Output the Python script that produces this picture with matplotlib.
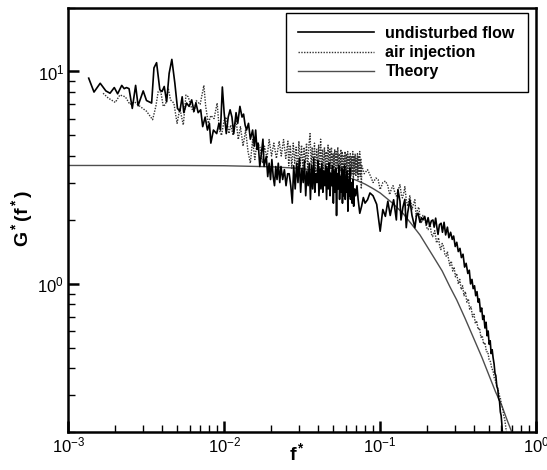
import numpy as np
import matplotlib
matplotlib.use("Agg")
import matplotlib.pyplot as plt

plt.rcParams['font.family'] = ['Liberation Sans', 'DejaVu Sans']
plt.rcParams['mathtext.fontset'] = 'custom'
plt.rcParams['mathtext.rm'] = 'Liberation Sans'
plt.rcParams['mathtext.bf'] = 'Liberation Sans:bold'
plt.rcParams['mathtext.it'] = 'Liberation Sans:italic'

# undisturbed flow, low frequencies (f*, G*)
undisturbed_low = [
    (0.00135, 9.3), (0.00146, 8.0), (0.00160, 8.8), (0.00174, 8.1), (0.00185, 7.9),
    (0.00197, 8.4), (0.00207, 7.85), (0.00220, 8.6), (0.00228, 8.3), (0.00236, 8.4),
    (0.00245, 8.3), (0.00257, 6.7), (0.00270, 8.6), (0.00280, 6.9), (0.00302, 8.1),
    (0.00317, 7.3), (0.00342, 7.1), (0.00354, 10.4), (0.00368, 11.0), (0.00386, 8.2),
    (0.00399, 8.05), (0.00412, 8.5), (0.00427, 7.2), (0.00443, 9.8), (0.00461, 11.4),
    (0.00482, 8.8), (0.00501, 6.7), (0.00519, 6.5), (0.00537, 7.6), (0.00550, 6.4),
    (0.00573, 7.1), (0.00595, 6.85), (0.00618, 7.35), (0.00639, 6.5), (0.00658, 7.1),
    (0.00680, 6.4), (0.00706, 6.6), (0.00727, 5.5), (0.00754, 6.1), (0.00780, 5.3),
    (0.00803, 5.7), (0.00820, 4.6), (0.00852, 5.3), (0.00894, 5.1), (0.00924, 5.7),
    (0.00946, 5.3), (0.00972, 8.45), (0.00998, 6.4), (0.0103, 5.1), (0.0106, 6.1),
    (0.0109, 6.6), (0.0112, 6.1), (0.0115, 5.1), (0.0119, 6.4), (0.0122, 5.7),
    (0.0126, 6.85), (0.0130, 6.1), (0.0133, 6.3), (0.0136, 5.6), (0.0139, 5.3),
    (0.0143, 5.7), (0.0147, 4.8), (0.0152, 5.3), (0.0156, 4.45), (0.0159, 5.3),
    (0.0162, 4.3), (0.0165, 4.6), (0.0169, 3.57), (0.0173, 4.1), (0.0177, 4.8),
    (0.0180, 3.57), (0.0186, 3.98), (0.0190, 3.2), (0.0194, 3.7), (0.0198, 3.1),
    (0.0202, 3.85), (0.0206, 3.2), (0.0210, 2.9), (0.0214, 3.57), (0.0218, 3.1),
    (0.0222, 3.7), (0.0227, 3.0), (0.0231, 3.57), (0.0237, 3.1), (0.0243, 3.45),
    (0.0249, 2.9), (0.0255, 3.3),
]

# undisturbed flow, dense band
undisturbed_mid = [
    (0.0261, 3.3), (0.0267, 2.9), (0.0273, 2.4), (0.0279, 3.6), (0.0285, 2.8),
    (0.0291, 3.7), (0.0297, 3.0), (0.0303, 3.9), (0.0309, 2.7), (0.0315, 3.5),
    (0.0321, 3.0), (0.0327, 3.8), (0.0333, 2.6), (0.0339, 3.4), (0.0345, 2.9),
    (0.0351, 3.7), (0.0357, 2.5), (0.0363, 3.6), (0.0369, 2.8), (0.0375, 3.9),
    (0.0381, 2.7), (0.0387, 3.3), (0.0393, 3.0), (0.0399, 3.8), (0.0405, 2.6),
    (0.0411, 3.5), (0.0417, 2.8), (0.0423, 3.7), (0.0429, 2.7), (0.0435, 3.4),
    (0.0441, 2.9), (0.0447, 3.6), (0.0453, 2.5), (0.0459, 3.5), (0.0465, 2.8),
    (0.0471, 3.7), (0.0477, 2.6), (0.0483, 3.3), (0.0489, 2.9), (0.0495, 3.6),
    (0.0501, 2.4), (0.0507, 3.4), (0.0513, 2.7), (0.0519, 3.5), (0.0525, 2.1),
    (0.0531, 3.3), (0.0537, 2.8), (0.0543, 3.6), (0.0549, 2.5), (0.0555, 3.2),
    (0.0561, 2.7), (0.0567, 3.5), (0.0573, 2.4), (0.0579, 3.4), (0.0585, 2.6),
    (0.0591, 3.6), (0.0597, 2.5), (0.0603, 3.2), (0.0609, 2.7), (0.0615, 3.4),
    (0.0621, 2.2), (0.0627, 3.1), (0.0633, 2.6), (0.0639, 3.5), (0.0645, 2.5),
]

# undisturbed flow, high frequencies
undisturbed_high = [
    (0.0652, 3.0), (0.0660, 2.4), (0.0668, 3.1), (0.0676, 2.32), (0.0686, 2.8),
    (0.0697, 2.6), (0.0710, 2.9), (0.0722, 2.5), (0.0740, 2.15), (0.0760, 2.32),
    (0.0780, 2.55), (0.0800, 2.4), (0.0830, 2.49), (0.0860, 2.68), (0.0900, 2.6),
    (0.0950, 2.37), (0.1000, 1.77), (0.1040, 2.24), (0.1080, 2.08), (0.1120, 2.45),
    (0.1160, 2.1), (0.1180, 2.24), (0.1220, 2.49), (0.1270, 2.0), (0.1300, 2.78),
    (0.1340, 2.45), (0.1360, 2.0), (0.1400, 2.3), (0.1440, 2.5), (0.1470, 1.84),
    (0.1500, 2.15), (0.1550, 2.49), (0.1600, 2.1), (0.1670, 1.84), (0.1710, 2.1),
    (0.1750, 2.15), (0.1800, 1.95), (0.1840, 2.05), (0.1880, 2.0), (0.1930, 2.08),
    (0.1980, 1.9), (0.2030, 2.05), (0.2080, 1.87), (0.2130, 1.98), (0.2180, 2.0),
    (0.2220, 1.85), (0.2270, 2.04), (0.2310, 1.85), (0.2350, 1.71), (0.2400, 1.9),
    (0.2460, 1.93), (0.2510, 1.75), (0.2570, 1.95), (0.2630, 1.7), (0.2700, 1.85),
    (0.2760, 1.65), (0.2830, 1.75), (0.2900, 1.62), (0.2960, 1.68), (0.3030, 1.5),
    (0.3100, 1.57), (0.3170, 1.42), (0.3250, 1.47), (0.3320, 1.33), (0.3400, 1.38),
    (0.3480, 1.2), (0.3560, 1.25), (0.3650, 1.12), (0.3730, 1.16), (0.3800, 1.0),
    (0.3880, 1.05), (0.3950, 0.95), (0.4030, 0.98), (0.4100, 0.88), (0.4180, 0.92),
    (0.4250, 0.82), (0.4320, 0.85), (0.4400, 0.74), (0.4480, 0.77), (0.4550, 0.68),
    (0.4620, 0.71), (0.4700, 0.62), (0.4780, 0.66), (0.4850, 0.57), (0.4930, 0.6),
    (0.5000, 0.52), (0.5080, 0.54), (0.5150, 0.47), (0.5230, 0.49), (0.5300, 0.45),
    (0.5380, 0.42), (0.5450, 0.38), (0.5520, 0.37), (0.5600, 0.33), (0.5680, 0.32),
    (0.5750, 0.29), (0.5830, 0.28), (0.5900, 0.25), (0.5970, 0.24), (0.6030, 0.22),
    (0.6080, 0.2), (0.6120, 0.19),
]

# air injection
air_low = [
    (0.00167, 7.9), (0.00180, 7.5), (0.00200, 7.15), (0.00214, 7.75), (0.00232, 7.6),
    (0.00248, 7.0), (0.00265, 7.2), (0.00288, 6.85), (0.00317, 6.5), (0.00347, 5.93),
    (0.00364, 6.85), (0.00377, 8.05), (0.00392, 8.0), (0.00406, 6.85), (0.00420, 7.0),
    (0.00437, 8.35), (0.00452, 7.35), (0.00475, 7.1), (0.00498, 5.7), (0.00519, 6.7),
    (0.00546, 5.6), (0.00568, 7.75), (0.00587, 7.6), (0.00618, 6.7), (0.0064, 6.4),
    (0.0066, 7.3), (0.0070, 7.0), (0.0074, 8.6), (0.0076, 6.85), (0.0079, 5.7),
    (0.0082, 6.2), (0.0086, 6.0), (0.0090, 7.1), (0.0093, 5.3), (0.0096, 5.0),
    (0.0100, 5.93), (0.0103, 6.1), (0.0107, 5.1), (0.0110, 5.6), (0.0114, 5.0),
    (0.0119, 5.93), (0.0123, 4.78), (0.0127, 5.5), (0.0132, 4.45), (0.0137, 5.3),
    (0.0142, 4.2), (0.0147, 3.7), (0.0152, 4.78), (0.0157, 3.85), (0.0162, 4.6),
    (0.0169, 4.45), (0.0176, 3.7), (0.0181, 4.45), (0.0188, 3.9), (0.0194, 4.78),
    (0.0201, 4.0), (0.0208, 4.6), (0.0216, 3.9), (0.0225, 4.7), (0.0232, 4.0),
    (0.0240, 4.78), (0.0248, 3.9), (0.0256, 4.7),
]

air_mid = [
    (0.0259, 3.6), (0.0265, 4.5), (0.0271, 3.5), (0.0277, 4.6), (0.0283, 3.7),
    (0.0289, 4.4), (0.0295, 3.4), (0.0301, 4.7), (0.0307, 3.6), (0.0313, 4.5),
    (0.0319, 3.5), (0.0325, 4.4), (0.0331, 3.7), (0.0337, 4.6), (0.0343, 3.4),
    (0.0349, 4.5), (0.0355, 5.1), (0.0361, 3.6), (0.0367, 4.4), (0.0373, 3.5),
    (0.0379, 4.6), (0.0385, 3.3), (0.0391, 4.3), (0.0397, 3.6), (0.0403, 4.5),
    (0.0409, 3.4), (0.0415, 4.8), (0.0421, 3.5), (0.0427, 4.3), (0.0433, 3.3),
    (0.0439, 4.4), (0.0445, 3.6), (0.0451, 4.2), (0.0457, 3.3), (0.0463, 4.5),
    (0.0469, 3.4), (0.0475, 4.3), (0.0481, 3.5), (0.0487, 4.4), (0.0493, 3.2),
    (0.0499, 4.1), (0.0505, 3.4), (0.0511, 4.3), (0.0517, 3.3), (0.0523, 4.2),
    (0.0529, 3.5), (0.0535, 4.4), (0.0541, 3.2), (0.0547, 4.1), (0.0553, 3.4),
    (0.0559, 4.3), (0.0565, 3.3), (0.0571, 4.2), (0.0577, 3.1), (0.0583, 4.0),
    (0.0589, 3.4), (0.0595, 4.2), (0.0601, 3.2), (0.0607, 4.1), (0.0613, 3.3),
    (0.0619, 4.2), (0.0625, 3.1), (0.0631, 4.0), (0.0637, 3.3), (0.0643, 4.1),
    (0.0649, 3.2), (0.0655, 4.0), (0.0661, 3.3), (0.0667, 4.2), (0.0673, 3.1),
    (0.0679, 4.0), (0.0685, 3.3), (0.0691, 4.1), (0.0697, 3.2), (0.0703, 3.9),
    (0.0709, 3.3), (0.0715, 4.1), (0.0721, 3.1), (0.0727, 4.0), (0.0733, 3.3),
    (0.0739, 4.2), (0.0745, 3.2), (0.0751, 3.9), (0.0757, 2.8), (0.0763, 3.6),
]

air_high = [
    (0.079, 3.3), (0.083, 3.45), (0.087, 3.2), (0.090, 3.0), (0.094, 3.15),
    (0.097, 3.1), (0.100, 2.78), (0.104, 3.0), (0.108, 3.05), (0.112, 2.9),
    (0.115, 2.63), (0.118, 2.8), (0.121, 2.9), (0.124, 2.7), (0.127, 2.59),
    (0.130, 2.75), (0.134, 2.93), (0.137, 2.6), (0.139, 2.54), (0.142, 2.7),
    (0.144, 2.87), (0.147, 2.5), (0.150, 2.32), (0.155, 2.6), (0.160, 2.24),
    (0.164, 2.4), (0.167, 2.49), (0.170, 2.08), (0.174, 2.25), (0.177, 2.3),
    (0.181, 2.0), (0.184, 1.93), (0.188, 2.1), (0.193, 2.05), (0.198, 1.85),
    (0.203, 1.8), (0.209, 1.92), (0.213, 1.72), (0.217, 1.67), (0.224, 1.78),
    (0.230, 1.56), (0.237, 1.65), (0.241, 1.5), (0.245, 1.45), (0.250, 1.55),
    (0.255, 1.5), (0.260, 1.38), (0.265, 1.35), (0.270, 1.42), (0.275, 1.3),
    (0.280, 1.22), (0.286, 1.28), (0.292, 1.15), (0.298, 1.2), (0.304, 1.08),
    (0.310, 1.12), (0.317, 1.0), (0.324, 1.05), (0.331, 0.94), (0.338, 0.98),
    (0.345, 0.88), (0.352, 0.92), (0.360, 0.82), (0.368, 0.85), (0.375, 0.76),
    (0.383, 0.78), (0.391, 0.7), (0.400, 0.72), (0.408, 0.65), (0.416, 0.67),
    (0.425, 0.61), (0.434, 0.62), (0.443, 0.56), (0.452, 0.57), (0.461, 0.52),
    (0.470, 0.53), (0.480, 0.48), (0.490, 0.48), (0.500, 0.44), (0.510, 0.43),
    (0.520, 0.4), (0.530, 0.39), (0.540, 0.36), (0.550, 0.35), (0.560, 0.33),
    (0.570, 0.32), (0.580, 0.3), (0.590, 0.29), (0.600, 0.27), (0.610, 0.26),
    (0.620, 0.24), (0.630, 0.23), (0.640, 0.21), (0.650, 0.195),
]

theory = [
    (0.001, 3.61), (0.005, 3.61), (0.01, 3.6), (0.02, 3.56), (0.03, 3.5),
    (0.04, 3.42), (0.05, 3.32), (0.06, 3.2), (0.07, 3.08), (0.08, 2.95),
    (0.09, 2.81), (0.1, 2.68), (0.12, 2.4), (0.14, 2.15), (0.16, 1.9),
    (0.18, 1.7), (0.2, 1.5), (0.22, 1.34), (0.25, 1.15), (0.28, 0.97),
    (0.31, 0.84), (0.35, 0.69), (0.4, 0.55), (0.45, 0.45), (0.5, 0.37),
    (0.55, 0.31), (0.6, 0.27), (0.65, 0.23), (0.7, 0.2), (0.75, 0.18),
]

und = np.array(undisturbed_low + undisturbed_mid + undisturbed_high)
air = np.array(air_low + air_mid + air_high)
th = np.array(theory)

fig = plt.figure(figsize=(5.47, 4.70), dpi=100)
ax = fig.add_axes([0.125, 0.080, 0.855, 0.904])

ax.plot(th[:, 0], th[:, 1], color='#4d4d4d', lw=1.0, label='Theory', zorder=2)
ax.plot(air[:, 0], air[:, 1], color='#333333', lw=1.0, dashes=(1, 1), label='air injection', zorder=3)
ax.plot(und[:, 0], und[:, 1], color='black', lw=1.2, label='undisturbed flow', zorder=4)

ax.set_xscale('log')
ax.set_yscale('log')
ax.set_xlim(1e-3, 1)
ax.set_ylim(0.2, 20)

for s in ax.spines.values():
    s.set_linewidth(1.8)
ax.tick_params(which='both', direction='in', top=False, right=False, labelsize=12)
ax.tick_params(which='major', length=8, width=1.8)
ax.tick_params(which='minor', length=5, width=1.0)
ax.tick_params(axis='x', which='major', pad=2)
ax.tick_params(axis='y', which='major', pad=3)

ax.set_xlabel(r'$\mathbf{f^*}$', fontsize=14)
ax.set_ylabel(r'$\mathbf{G^*(f^*)}$', fontsize=14)
ax.xaxis.set_label_coords(0.49, -0.022)
ax.yaxis.set_label_coords(-0.072, 0.504)

h, l = ax.get_legend_handles_labels()
order = [2, 1, 0]
leg = ax.legend([h[i] for i in order], [l[i] for i in order],
                loc='upper right', bbox_to_anchor=(0.982, 0.987), borderaxespad=0,
                fancybox=False, framealpha=1, edgecolor='black',
                handlelength=4.7, handletextpad=0.75, labelspacing=0.27,
                borderpad=0.8, prop={'weight': 'bold', 'size': 11.5})
leg.get_frame().set_linewidth(1.0)

fig.savefig('out.png', dpi=100)
